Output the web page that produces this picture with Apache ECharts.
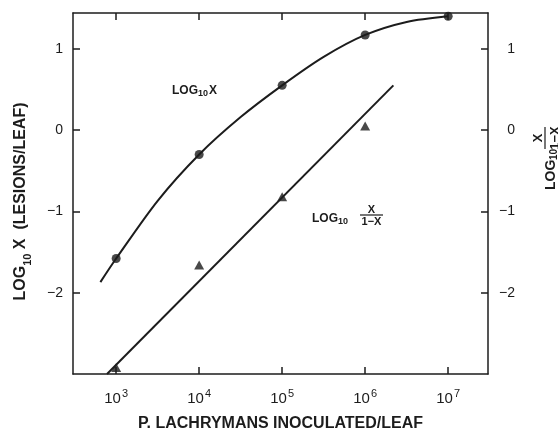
<!DOCTYPE html>
<html>
<head>
<meta charset="utf-8">
<script src="https://cdn.jsdelivr.net/npm/echarts@6/dist/echarts.min.js"></script>
<style>
html, body { margin: 0; padding: 0; background: #fff; }
#chart { width: 558px; height: 437px; }
</style>
</head>
<body>
<div id="chart"></div>
<script>
// x values are log10 of bacteria inoculated per leaf
var doseExp = [3, 4, 5, 6, 7];
var logX = [-1.58, -0.30, 0.55, 1.17, 1.40];
var triExp = [3, 4, 5, 6];
var logOdds = [-2.92, -1.66, -0.82, 0.05];
// hand drawn curve through log10 X
var curveExp = [2.81, 3, 3.5, 4, 4.5, 5, 5.5, 6, 6.5, 7];
var curveY = [-1.87, -1.58, -0.87, -0.30, 0.16, 0.55, 0.90, 1.17, 1.33, 1.40];
// straight line fitted to log10 X/(1-X)
var fitExp = [2.89, 6.34];
var fitY = [-3.0, 0.55];
var xTicks = [3, 4, 5, 6, 7];
var yTicks = [-2, -1, 0, 1];

var INK = '#1c1c1c';
var FONT = 'Liberation Sans, Arial, Helvetica, sans-serif';

var zip = function(a, b) {
    var out = [];
    for (var i = 0; i < a.length; i++) {
        out.push([a[i], b[i]]);
    }
    return out;
};
var minus = function(v) {
    return String(v).replace('-', '\u2212');
};
var txt = function(t, tx, ty, size, align) {
    return {
        type: 'text', x: tx, y: ty,
        style: {
            text: t, fill: INK, align: align || 'left', verticalAlign: 'middle',
            font: 'bold ' + size + 'px ' + FONT
        }
    };
};

// LOG10 X/(1-X) label, built from parts so the fraction can stack
// c = [main font, sub font, frac font, sub x, frac centre, frac half width, num dy, bar dy, den dy]
var oddsLabel = function(x, y, rot, c) {
    return {
        type: 'group', x: x, y: y, rotation: rot,
        children: [
            txt('LOG', 0, 0, c[0]),
            txt('10', c[3], 3, c[1]),
            txt('X', c[4], c[6], c[2], 'center'),
            { type: 'line', shape: { x1: c[4] - c[5], y1: c[7], x2: c[4] + c[5], y2: c[7] }, style: { stroke: INK, lineWidth: 1.2 } },
            txt('1\u2212X', c[4], c[8], c[2], 'center')
        ]
    };
};

var axisLine = { show: true, onZero: false, lineStyle: { color: INK, width: 1.5 } };
var tick = function(vals) {
    return { show: true, inside: true, length: 7, customValues: vals, lineStyle: { color: INK, width: 1.5 } };
};

var leftY = {
    type: 'value', position: 'left', min: -3.0, max: 1.44,
    axisLine: axisLine,
    axisTick: tick(yTicks),
    axisLabel: { customValues: yTicks, margin: 10, formatter: minus, fontFamily: FONT, fontSize: 14, color: INK },
    splitLine: { show: false },
    name: '{a|LOG}{s|10}{a| X  (LESIONS/LEAF)}',
    nameLocation: 'middle', nameGap: 40, nameRotate: 90,
    nameTextStyle: {
        padding: [0, 16, 0, 0],
        rich: {
            a: { fontFamily: FONT, fontSize: 16, fontWeight: 'bold', color: INK, verticalAlign: 'bottom', padding: [0, 0, 4, 0] },
            s: { fontFamily: FONT, fontSize: 11, fontWeight: 'bold', color: INK, verticalAlign: 'bottom' }
        }
    }
};
var rightY = {
    type: 'value', position: 'right', min: -3.0, max: 1.44,
    axisLine: axisLine,
    axisTick: tick(yTicks),
    axisLabel: { customValues: yTicks, margin: 27, align: 'right', formatter: minus, fontFamily: FONT, fontSize: 14, color: INK },
    splitLine: { show: false }
};

var bottomX = {
    type: 'value', position: 'bottom', min: 2.48, max: 7.48,
    axisLine: axisLine,
    axisTick: tick(xTicks),
    axisLabel: {
        customValues: xTicks, margin: 14,
        formatter: function(v) { return '{b|10}{p|' + v + '}'; },
        rich: {
            b: { fontFamily: FONT, fontSize: 15, color: INK, verticalAlign: 'bottom' },
            p: { fontFamily: FONT, fontSize: 11, color: INK, verticalAlign: 'bottom', padding: [0, 0, 7, 1] }
        }
    },
    splitLine: { show: false },
    name: 'P. LACHRYMANS INOCULATED/LEAF',
    nameLocation: 'middle', nameGap: 42,
    nameTextStyle: { fontFamily: FONT, fontSize: 16, fontWeight: 'bold', color: INK }
};
var topX = {
    type: 'value', position: 'top', min: 2.48, max: 7.48,
    axisLine: axisLine,
    axisTick: tick(xTicks),
    axisLabel: { show: false },
    splitLine: { show: false }
};

var chart = echarts.init(document.getElementById('chart'));
chart.setOption({
    backgroundColor: '#fff',
    animation: false,
    grid: { left: 73, right: 70, top: 13, bottom: 60 },
    xAxis: [bottomX, topX],
    yAxis: [leftY, rightY],
    series: [
        {
            type: 'line', data: zip(curveExp, curveY), smooth: 0.3,
            showSymbol: false, symbol: 'none', lineStyle: { color: INK, width: 2 }
        },
        {
            type: 'scatter', data: zip(doseExp, logX), symbol: 'circle', symbolSize: 9,
            itemStyle: { color: INK }
        },
        {
            type: 'line', data: zip(fitExp, fitY), symbol: 'none', lineStyle: { color: INK, width: 2 }
        },
        {
            type: 'scatter', data: zip(triExp, logOdds), symbol: 'triangle', symbolSize: [10, 9],
            clip: false, itemStyle: { color: INK }
        }
    ],
    graphic: [
        {
            type: 'group', x: 172, y: 91,
            children: [
                txt('LOG', 0, 0, 12),
                txt('10', 26, 3, 9),
                txt('X', 37, 0, 12)
            ]
        },
        oddsLabel(312, 219, 0, [12, 9, 11, 26, 59.5, 11.5, -9, -4, 3]),
        oddsLabel(551, 190, Math.PI / 2, [14, 10, 13, 30, 52, 11, -13, -6, 4])
    ]
});
</script>
</body>
</html>
